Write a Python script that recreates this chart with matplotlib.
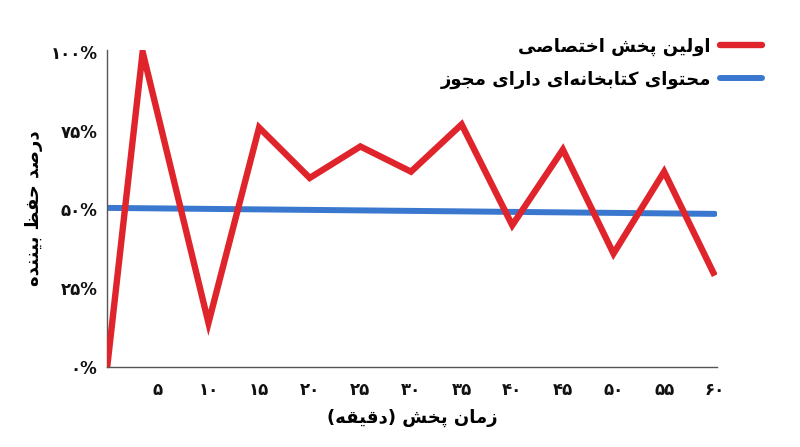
import matplotlib
matplotlib.use('Agg')
import matplotlib.pyplot as plt

# red: first exclusive broadcast, blue: licensed library content
minutes_red = [0, 3.5, 10, 15, 20, 25, 30, 35, 40, 45, 50, 55, 60]
retention_red = [0, 100, 14, 76, 60, 70, 62, 77, 45, 69, 36, 62, 29]
minutes_blue = [0, 60]
retention_blue = [50.5, 48.6]

x_ticks = [5, 10, 15, 20, 25, 30, 35, 40, 45, 50, 55, 60]
y_ticks = [0, 25, 50, 75, 100]

label_red = 'اولین پخش اختصاصی'
label_blue = 'محتوای کتابخانه‌ای دارای مجوز'
y_title = 'درصد حفظ بیننده'
x_title = 'زمان پخش (دقیقه)'

RED = '#E0242B'
BLUE = '#3A78D0'

# isolated, final, initial, medial  (None = letter does not join forward)
FORMS = {
    'ا': ('\uFE8D', '\uFE8E', None, None),
    'ب': ('\uFE8F', '\uFE90', '\uFE91', '\uFE92'),
    'ت': ('\uFE95', '\uFE96', '\uFE97', '\uFE98'),
    'ج': ('\uFE9D', '\uFE9E', '\uFE9F', '\uFEA0'),
    'ح': ('\uFEA1', '\uFEA2', '\uFEA3', '\uFEA4'),
    'خ': ('\uFEA5', '\uFEA6', '\uFEA7', '\uFEA8'),
    'د': ('\uFEA9', '\uFEAA', None, None),
    'ر': ('\uFEAD', '\uFEAE', None, None),
    'ز': ('\uFEAF', '\uFEB0', None, None),
    'ش': ('\uFEB5', '\uFEB6', '\uFEB7', '\uFEB8'),
    'ص': ('\uFEB9', '\uFEBA', '\uFEBB', '\uFEBC'),
    'ظ': ('\uFEC5', '\uFEC6', '\uFEC7', '\uFEC8'),
    'ف': ('\uFED1', '\uFED2', '\uFED3', '\uFED4'),
    'ق': ('\uFED5', '\uFED6', '\uFED7', '\uFED8'),
    'ل': ('\uFEDD', '\uFEDE', '\uFEDF', '\uFEE0'),
    'م': ('\uFEE1', '\uFEE2', '\uFEE3', '\uFEE4'),
    'ن': ('\uFEE5', '\uFEE6', '\uFEE7', '\uFEE8'),
    'ه': ('\uFEE9', '\uFEEA', '\uFEEB', '\uFEEC'),
    'و': ('\uFEED', '\uFEEE', None, None),
    'پ': ('\uFB56', '\uFB57', '\uFB58', '\uFB59'),
    'ک': ('\uFB8E', '\uFB8F', '\uFB90', '\uFB91'),
    'ی': ('\uFBFC', '\uFBFD', '\uFBFE', '\uFBFF'),
}
MIRROR = {'(': ')', ')': '('}


def fa(text):
    # poor man's arabic shaping + rtl, matplotlib does neither
    out = []
    for i, c in enumerate(text):
        if c not in FORMS:
            out.append(c)
            continue
        iso, fin, ini, med = FORMS[c]
        prev = text[i - 1] if i > 0 else ''
        nxt = text[i + 1] if i + 1 < len(text) else ''
        join_prev = prev in FORMS and FORMS[prev][2] is not None
        join_next = ini is not None and nxt in FORMS
        if join_prev and join_next:
            out.append(med)
        elif join_prev:
            out.append(fin)
        elif join_next:
            out.append(ini)
        else:
            out.append(iso)
    out = [MIRROR.get(c, c) for c in out if c != '\u200c']
    return ''.join(reversed(out))


def fa_num(n):
    return str(n).translate(str.maketrans('0123456789', '۰۱۲۳۴۵۶۷۸۹'))


plt.rcParams['font.family'] = ['DejaVu Sans']
plt.rcParams['font.weight'] = 'bold'

fig = plt.figure(figsize=(8, 4.47), dpi=100)
ax = fig.add_axes([0.134, 0.179, 0.762, 0.709])

ax.plot(minutes_red, retention_red, color=RED, lw=4.6, solid_joinstyle='miter',
        solid_capstyle='butt', label=fa(label_red), zorder=3)
ax.plot(minutes_blue, retention_blue, color=BLUE, lw=4.3, solid_capstyle='round',
        label=fa(label_blue), zorder=2)

ax.set_xlim(0, 60.2)
ax.set_ylim(0, 100.6)
ax.set_xticks(x_ticks)
ax.set_xticklabels([fa_num(v) for v in x_ticks])
ax.set_yticks(y_ticks)
ax.set_yticklabels([fa_num(v) + '%' for v in y_ticks])
ax.tick_params(length=0, labelsize=12, colors='#111111')
ax.tick_params(axis='y', pad=7)
ax.tick_params(axis='x', pad=10)

for s in ['top', 'right']:
    ax.spines[s].set_visible(False)
for s in ['left', 'bottom']:
    ax.spines[s].set_color('#555555')
    ax.spines[s].set_linewidth(1)

ax.set_xlabel(fa(x_title), fontsize=13, fontweight='bold', labelpad=7)
ax.set_ylabel(fa(y_title), fontsize=13, fontweight='bold')
ax.yaxis.set_label_coords(-0.105, 0.5)

leg = ax.legend(loc='upper right', bbox_to_anchor=(1.1, 1.09), frameon=False,
                markerfirst=False, fontsize=13, handlelength=2.3,
                handletextpad=0.5, labelspacing=0.8)
for line in leg.get_lines():
    line.set_solid_capstyle('round')

fig.savefig('out.png', dpi=100, facecolor='white')
